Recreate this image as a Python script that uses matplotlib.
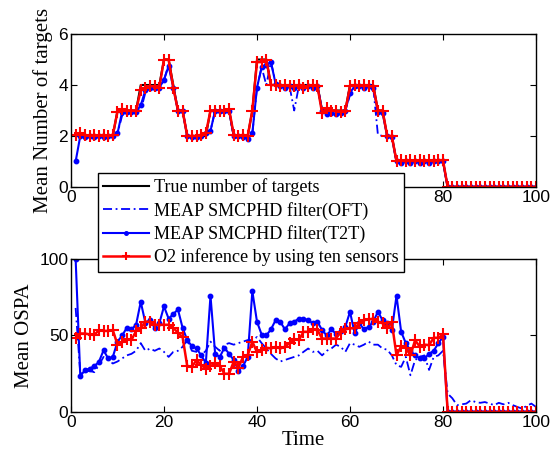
import numpy as np
import matplotlib
matplotlib.use("Agg")
import matplotlib.pyplot as plt

time = list(range(1, 101))

true_num = ([2]*9 + [3]*5 + [4]*5 + [5]*2 + [4] + [3]*2 + [2]*5 + [3]*5 + [2]*4 + [3]
            + [5]*3 + [4]*11 + [3]*6 + [4]*6 + [3]*2 + [2]*2 + [1]*11 + [0]*20)

num_oft = ([2.0, 2.0, 1.95, 2.0, 2.0, 1.95, 2.0, 2.0, 2.0, 2.1,
            2.8, 2.95, 2.95, 3.0, 3.0, 3.7, 3.9, 3.9, 3.9, 4.2,
            4.8, 3.9, 3.0, 3.0, 2.0, 2.0, 2.0, 2.0, 2.1, 2.2,
            3.0, 3.0, 3.0, 2.95, 2.0, 2.0, 1.95, 1.9, 2.1, 3.9,
            4.7, 4.0, 4.9, 4.1, 4.0, 4.0, 3.95, 3.0, 3.95, 3.95,
            3.95, 3.95, 3.95, 3.0, 2.9, 2.9, 2.9, 2.9, 3.0, 3.6,
            3.95, 3.95, 3.95, 3.95, 3.9, 2.05, 2.0, 2.0, 1.95, 1.0,
            1.0, 1.0, 1.0, 1.0, 1.0, 1.0, 1.0, 1.0, 1.0, 1.0]
           + [0.0]*20)

num_t2t = ([1.0, 2.0, 1.95, 2.0, 1.95, 2.0, 1.95, 2.0, 2.0, 2.1,
            2.95, 2.95, 2.95, 2.95, 3.2, 3.8, 3.9, 3.9, 3.9, 4.2,
            4.75, 3.9, 3.0, 3.0, 2.0, 1.95, 1.95, 2.0, 2.1, 2.2,
            3.0, 3.0, 3.0, 3.0, 2.0, 2.0, 1.95, 1.9, 2.1, 3.9,
            4.7, 4.8, 4.9, 4.05, 3.95, 3.9, 3.95, 3.9, 3.95, 3.9,
            3.95, 3.9, 3.95, 3.0, 2.85, 2.9, 2.85, 2.9, 3.0, 3.7,
            3.95, 3.95, 3.9, 3.95, 3.9, 2.95, 2.9, 2.0, 1.95, 1.0,
            0.95, 1.0, 0.95, 1.0, 0.95, 1.0, 0.95, 1.0, 1.0, 1.0]
           + [0.0]*20)

num_o2 = ([2.05, 2.1, 2.05, 2.0, 2.05, 2.0, 2.05, 2.0, 2.05, 2.95,
           3.05, 3.0, 3.0, 3.0, 3.8, 3.9, 3.95, 3.95, 3.9, 5.0,
           5.0, 3.9, 3.0, 3.0, 2.0, 2.0, 2.0, 2.05, 2.1, 3.0,
           3.0, 3.0, 3.0, 3.05, 2.05, 2.0, 2.05, 2.0, 3.0, 4.9,
           4.9, 5.0, 4.0, 4.0, 3.95, 4.0, 3.95, 3.95, 4.0, 3.9,
           3.95, 4.0, 3.95, 2.9, 3.1, 3.0, 3.0, 2.95, 3.0, 3.95,
           4.0, 3.95, 4.0, 3.95, 3.95, 3.0, 3.0, 2.0, 2.0, 1.0,
           1.05, 1.0, 1.05, 1.0, 1.05, 1.0, 1.05, 1.0, 1.05, 1.05]
          + [0.0]*20)

ospa_oft = ([68, 25, 26, 27, 26, 30.6, 36, 34, 31.7, 33,
             35, 37, 38, 40, 45, 40, 41.5, 40, 41.5, 39.3,
             36, 39.3, 40, 42.6, 47, 40, 39.3, 37, 40, 46,
             42.6, 40, 44, 45, 44, 45, 46, 47, 47, 49,
             45, 41.5, 38, 35, 33, 34, 35, 36, 37, 39.3,
             41.5, 39.3, 40, 37, 40, 41.5, 44, 42.6, 39.3, 45,
             44, 42.6, 44, 46, 44, 44, 41.5, 40.7, 37, 30.6,
             29.5, 36, 24, 34, 36, 37, 27.5, 36, 37, 40,
             12, 9, 4.5, 5, 5.5, 7.7, 6.5, 6, 6.5, 5.5,
             4.5, 6, 5, 6, 4.5, 3.3, 2.2, 4, 5.5, 3.3])

ospa_t2t = ([100, 23.4, 27.3, 28.4, 29.9, 32.7, 40.3, 35, 36, 46,
             50, 55, 54, 57, 72, 58.3, 60, 55, 58, 69,
             61, 64, 67, 55, 47, 43, 41.5, 37, 32, 76,
             38, 36, 42, 38, 34, 27, 30, 36, 79, 59,
             50.6, 50, 54, 60, 59, 54, 58, 59, 61, 61,
             60, 58, 59, 53.5, 50, 54, 51, 53, 55.7, 65.5,
             51.4, 58, 54, 55.7, 59, 65.5, 60, 58, 53.5, 76,
             52.4, 45, 40, 37, 35, 35, 38, 40, 45, 49]
            + [0]*20)

ospa_o2 = ([48.5, 51.3, 51.3, 50.7, 50.3, 53.5, 53, 53, 53.5, 44,
            45.6, 47.6, 47, 53, 54.6, 59, 59, 57, 57, 57,
            57, 55, 51.8, 49, 30, 29.5, 34, 30.6, 28.4, 30,
            31.7, 30, 25, 25, 33, 29, 36, 37, 46, 39,
            40.4, 42, 41.5, 42.6, 41.5, 42.7, 45, 47.6, 47, 52.4,
            52.4, 54, 53.5, 48, 48, 48, 48, 52.4, 54, 54.7,
            54.7, 58, 60, 60.5, 61, 59, 58, 54.7, 58.5, 37,
            43, 42, 37, 47, 42.6, 44, 43.7, 48.5, 48.5, 50.7]
           + [0]*20)

xticks = [0, 20, 40, 60, 80, 100]
top_xticklabels = ["0", "", "", "", "80", "100"]
bottom_xticklabels = ["0", "20", "40", "60", "80", "100"]

labels = ["True number of targets", "MEAP SMCPHD filter(OFT)",
          "MEAP SMCPHD filter(T2T)", "O2 inference by using ten sensors"]

serif = ["Liberation Serif", "DejaVu Serif"]
sans = ["Liberation Sans", "DejaVu Sans"]

fig = plt.figure(figsize=(5.58, 4.61), dpi=100)
ax1 = fig.add_axes([0.1272, 0.5944, 0.8334, 0.3318])
ax2 = fig.add_axes([0.1272, 0.1063, 0.8334, 0.3319])

blue = "#0000ff"
red = "#ff0000"

for ax, series, ylim, yt, ylab, xtl in [
        (ax1, (true_num, num_oft, num_t2t, num_o2), (0, 6), [0, 2, 4, 6],
         "Mean Number of targets", top_xticklabels),
        (ax2, (None, ospa_oft, ospa_t2t, ospa_o2), (0, 100), [0, 50, 100],
         "Mean OSPA", bottom_xticklabels)]:
    h = []
    if series[0] is not None:
        h += ax.plot(time, series[0], color="black", lw=1.5, label=labels[0])
    h += ax.plot(time, series[1], color=blue, lw=1.3, ls=(0, (5, 2, 1, 2)), label=labels[1])
    h += ax.plot(time, series[2], color=blue, lw=1.5, marker="o", ms=3.2, label=labels[2])
    h += ax.plot(time, series[3], color=red, lw=1.8, marker="+", ms=8, mew=1.5, label=labels[3])
    ax.set_xlim(0, 100)
    ax.set_ylim(*ylim)
    ax.set_yticks(yt)
    ax.set_xticks(xticks)
    ax.set_xticklabels(xtl)
    ax.tick_params(direction="in", top=True, right=True, length=4, width=0.8,
                   labelsize=12.5, pad=2)
    for lab in ax.get_xticklabels() + ax.get_yticklabels():
        lab.set_fontfamily(sans)
    for s in ax.spines.values():
        s.set_linewidth(1.0)
    ax.set_ylabel(ylab, family=serif, fontsize=15, labelpad=4)
    if ax is ax1:
        handles = h

ax2.set_xlabel("Time", family=serif, fontsize=15, labelpad=1)

leg = fig.legend(handles, labels, loc="upper left", bbox_to_anchor=(0.1756, 0.6247),
                 bbox_transform=fig.transFigure, borderaxespad=0, frameon=True,
                 fancybox=False, framealpha=1, edgecolor="black",
                 prop={"family": serif, "size": 13.1}, handlelength=2.5,
                 handletextpad=0.3, labelspacing=0.3, borderpad=0.3,
                 markerscale=0.8)
leg.get_frame().set_linewidth(1.0)
leg.set_zorder(10)

fig.savefig("out.png", dpi=100)
